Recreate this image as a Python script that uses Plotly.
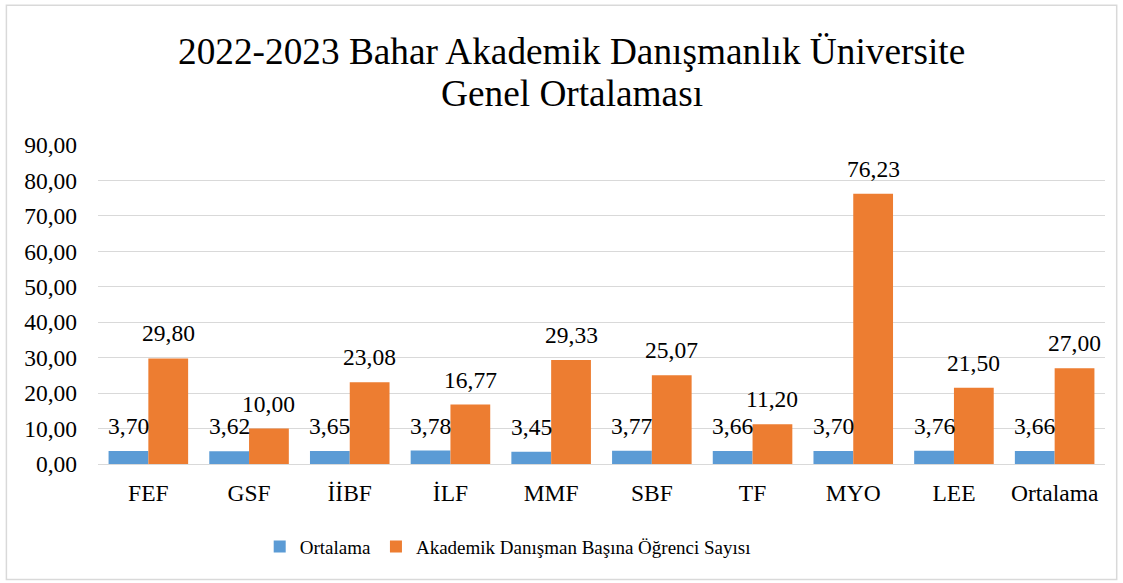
import plotly.graph_objects as go

categories = ["FEF", "GSF", "İİBF", "İLF", "MMF", "SBF", "TF", "MYO", "LEE", "Ortalama"]
ortalama = [3.70, 3.62, 3.65, 3.78, 3.45, 3.77, 3.66, 3.70, 3.76, 3.66]
ogrenci = [29.80, 10.00, 23.08, 16.77, 29.33, 25.07, 11.20, 76.23, 21.50, 27.00]
y_ticks = [0, 10, 20, 30, 40, 50, 60, 70, 80, 90]
series_names = ["Ortalama", "Akademik Danışman Başına Öğrenci Sayısı"]
title_lines = ["2022-2023 Bahar Akademik Danışmanlık Üniversite", "Genel Ortalaması"]

def tr(v):
    return f"{v:.2f}".replace(".", ",")

W, H = 1123, 583
L, R, T, B = 98.3, 1105.3, 145.0, 464.3
FONT = "Liberation Serif"
BARGAP = 0.21
LABEL_SIZE = 23.5

fig = go.Figure()
fig.add_trace(go.Bar(
    x=categories, y=ortalama, name=series_names[0],
    marker=dict(color="#5B9BD5", line=dict(width=0)),
))
fig.add_trace(go.Bar(
    x=categories, y=ogrenci, name=series_names[1],
    marker=dict(color="#ED7D31", line=dict(width=0)),
))

pw, ph = R - L, B - T
cat_px = pw / len(categories)
half_bar = cat_px * (1 - BARGAP) / 4  # offset of each bar centre from category centre

for series, sign in ((ortalama, -1), (ogrenci, 1)):
    for c, v in zip(categories, series):
        fig.add_annotation(x=c, y=v, xref="x", yref="y", text=tr(v),
                           showarrow=False, xanchor="center", yanchor="bottom",
                           xshift=sign * half_bar, yshift=10,
                           font=dict(family=FONT, size=LABEL_SIZE, color="#000000"))

fig.add_shape(type="rect", xref="paper", yref="paper",
              x0=(6.7 - L) / pw, x1=(1117 - L) / pw,
              y0=(B - 580) / ph, y1=(B - 5) / ph,
              line=dict(color="#D9D9D9", width=1.5), fillcolor="rgba(0,0,0,0)")

for line_text, ycen in zip(title_lines, [51, 93]):
    fig.add_annotation(text=line_text, xref="paper", yref="paper",
                       x=(572 - L) / pw, y=(B - ycen) / ph,
                       xanchor="center", yanchor="middle", showarrow=False,
                       font=dict(family=FONT, size=37.3, color="#000000"))

fig.update_layout(
    width=W, height=H,
    margin=dict(l=L, r=W - R, t=T, b=H - B, autoexpand=False),
    paper_bgcolor="white", plot_bgcolor="white",
    barmode="group", bargap=BARGAP, bargroupgap=0.0,
    font=dict(family=FONT, color="#000000"),
    legend=dict(orientation="h", x=(508 - L) / pw, xanchor="center",
                y=(B - 547) / ph, yanchor="middle",
                font=dict(family=FONT, size=19, color="#000000"),
                itemwidth=30, traceorder="normal"),
)
fig.update_xaxes(showgrid=False, showline=False, zeroline=False,
                 tickfont=dict(family=FONT, size=LABEL_SIZE, color="#000000"),
                 ticks="", ticklabelstandoff=12)
fig.update_yaxes(range=[0, 90], tickvals=y_ticks, ticktext=[tr(v) for v in y_ticks],
                 showgrid=True, gridcolor="#D9D9D9", gridwidth=1.3,
                 zeroline=True, zerolinecolor="#D9D9D9", zerolinewidth=1.3,
                 showline=False, ticks="", ticklabelstandoff=20,
                 tickfont=dict(family=FONT, size=LABEL_SIZE, color="#000000"))

fig.write_html("out.html", config={"displayModeBar": False},
               post_script="document.body.style.margin='0px';document.body.style.overflow='hidden';")
